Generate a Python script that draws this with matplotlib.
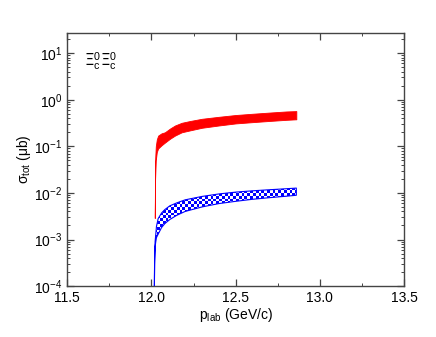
import numpy as np
import matplotlib
matplotlib.use("Agg")
import matplotlib.pyplot as plt
from matplotlib.colors import ListedColormap
from matplotlib.ticker import LogLocator, MultipleLocator, FuncFormatter

plt.rcParams["font.family"] = ["Liberation Sans", "DejaVu Sans"]
plt.rcParams["mathtext.fontset"] = "custom"
plt.rcParams["mathtext.rm"] = "Liberation Sans"
plt.rcParams["mathtext.it"] = "Liberation Sans"

# Red band (upper curve in the figure)
red_p = [12.020, 12.022, 12.026, 12.032, 12.040, 12.060, 12.080, 12.110, 12.140,
         12.180, 12.230, 12.300, 12.400, 12.500, 12.600, 12.700, 12.800, 12.860]
red_lo = [2.9e-3, 0.02, 0.05, 0.075, 0.09, 0.105, 0.12, 0.145, 0.17,
          0.20, 0.22, 0.25, 0.28, 0.31, 0.33, 0.35, 0.37, 0.38]
red_hi = [3.1e-3, 0.05, 0.10, 0.14, 0.17, 0.19, 0.20, 0.24, 0.28,
          0.32, 0.35, 0.39, 0.43, 0.47, 0.50, 0.53, 0.56, 0.57]

# Blue band (checkered)
blue_p = [12.017, 12.019, 12.022, 12.026, 12.030, 12.040, 12.060, 12.080, 12.110,
          12.150, 12.200, 12.300, 12.400, 12.500, 12.600, 12.700, 12.800, 12.860]
blue_lo = [5e-5, 3e-4, 7e-4, 9e-4, 1.1e-3, 1.3e-3, 1.8e-3, 2.2e-3, 2.7e-3,
           3.3e-3, 4.0e-3, 5.0e-3, 5.9e-3, 6.6e-3, 7.3e-3, 7.9e-3, 8.5e-3, 8.9e-3]
blue_hi = [5e-5, 3.5e-4, 9e-4, 1.3e-3, 1.9e-3, 2.8e-3, 3.7e-3, 4.4e-3, 5.3e-3,
           6.1e-3, 7.1e-3, 8.4e-3, 9.5e-3, 1.04e-2, 1.11e-2, 1.17e-2, 1.23e-2, 1.27e-2]

fig = plt.figure(figsize=(4.36, 3.37), dpi=100)
ax = fig.add_axes([0.154, 0.151, 0.773, 0.751])

# red band
ax.fill_between(red_p, red_lo, red_hi, facecolor="red", edgecolor="red",
                linewidth=0.6, zorder=2)

# blue band: checkerboard pattern clipped to the band
poly = ax.fill_between(blue_p, blue_lo, blue_hi, facecolor="none",
                       edgecolor="blue", linewidth=0.8, zorder=3)
w_px = fig.get_figwidth() * fig.dpi * 0.773
h_px = fig.get_figheight() * fig.dpi * 0.751
nx, ny = int(w_px / 2.8), int(h_px / 2.8)
checker = (np.add.outer(np.arange(ny), np.arange(nx)) % 2).astype(float)
im = ax.imshow(checker, extent=(0, 1, 0, 1), transform=ax.transAxes,
               cmap=ListedColormap(["white", "blue"]), interpolation="nearest",
               aspect="auto", zorder=2)
im.set_clip_path(poly.get_paths()[0], poly.get_transform())

ax.set_yscale("log")
ax.set_xlim(11.5, 13.5)
ax.set_ylim(1e-4, 27)

ax.xaxis.set_major_locator(MultipleLocator(0.5))
ax.xaxis.set_minor_locator(MultipleLocator(0.25))
ax.xaxis.set_major_formatter(FuncFormatter(lambda v, p: "%.1f" % v))
ax.yaxis.set_major_locator(LogLocator(base=10, numticks=10))
ax.yaxis.set_minor_locator(LogLocator(base=10, subs=np.arange(2, 10), numticks=20))
ax.yaxis.set_major_formatter(FuncFormatter(lambda v, p: "10$^{%d}$" % round(np.log10(v))))

ax.tick_params(which="both", direction="in", top=True, right=True,
               labelsize=10, color="#444444")
ax.tick_params(which="major", length=5, width=0.9)
ax.tick_params(which="minor", length=2.5, width=0.7)
for s in ax.spines.values():
    s.set_color("#444444")
    s.set_linewidth(1.0)

ax.set_xlabel("p$_{\\rm lab}$ (GeV/c)", fontsize=10, labelpad=1)
ax.set_ylabel("$\\sigma_{\\rm tot}$ ($\\mu$b)", fontsize=10, labelpad=1)

ax.text(0.05, 0.93, "Ξ$_c^0$Ξ$_c^0$", transform=ax.transAxes,
        fontsize=11, va="top", ha="left", family=["DejaVu Sans"])

fig.savefig("out.png", dpi=100)
